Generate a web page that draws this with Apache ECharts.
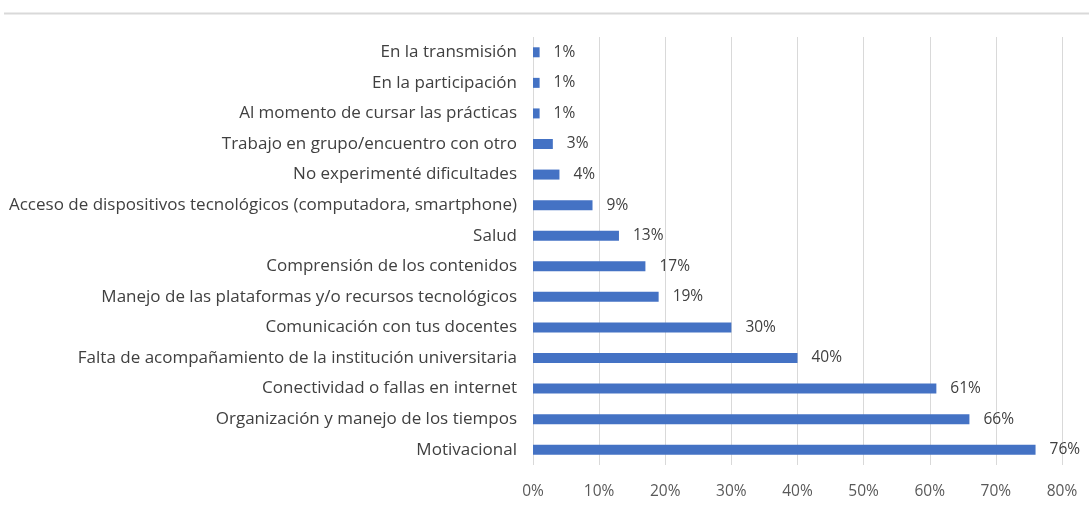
<!DOCTYPE html>
<html><head><meta charset="utf-8">
<script src="https://cdn.jsdelivr.net/npm/echarts@6/dist/echarts.min.js"></script>
<style>html,body{margin:0;padding:0;background:#fff}#c{width:1089px;height:514px}</style>
</head><body><div id="c"></div>
<script>
const categories = [
  "En la transmisión",
  "En la participación",
  "Al momento de cursar las prácticas",
  "Trabajo en grupo/encuentro con otro",
  "No experimenté dificultades",
  "Acceso de dispositivos tecnológicos (computadora, smartphone)",
  "Salud",
  "Comprensión de los contenidos",
  "Manejo de las plataformas y/o recursos tecnológicos",
  "Comunicación con tus docentes",
  "Falta de acompañamiento de la institución universitaria",
  "Conectividad o fallas en internet",
  "Organización y manejo de los tiempos",
  "Motivacional"
];
const values = [1, 1, 1, 3, 4, 9, 13, 17, 19, 30, 40, 61, 66, 76];
const xTicks = [0, 10, 20, 30, 40, 50, 60, 70, 80];

const chart = echarts.init(document.getElementById('c'), null, {renderer: 'canvas'});
const font = '"Open Sans", Roboto, sans-serif';
chart.setOption({
  animation: false,
  backgroundColor: '#fff',
  grid: {left: 533, right: 27, top: 37, bottom: 49, containLabel: false},
  xAxis: {
    type: 'value', min: xTicks[0], max: xTicks[xTicks.length - 1], interval: 10,
    axisLine: {show: false}, axisTick: {show: false},
    splitLine: {show: true, lineStyle: {color: '#d9d9d9', width: 1}},
    axisLabel: {formatter: '{value}%', color: '#595959', fontSize: 15.5, fontFamily: font, margin: 19}
  },
  yAxis: {
    type: 'category', data: categories, inverse: true,
    axisLine: {show: false}, axisTick: {show: false},
    axisLabel: {color: '#404040', fontSize: 17, fontFamily: font, margin: 16}
  },
  series: [{
    type: 'bar', data: values, barWidth: 10,
    itemStyle: {color: '#4472C4'},
    label: {show: true, position: 'right', distance: 14, formatter: '{c}%', color: '#404040', fontSize: 15.5, fontFamily: font}
  }],
  graphic: [{
    type: 'line', shape: {x1: 4, y1: 13.5, x2: 1089, y2: 13.5},
    style: {stroke: '#d9d9d9', lineWidth: 2}
  }]
});
</script></body></html>
